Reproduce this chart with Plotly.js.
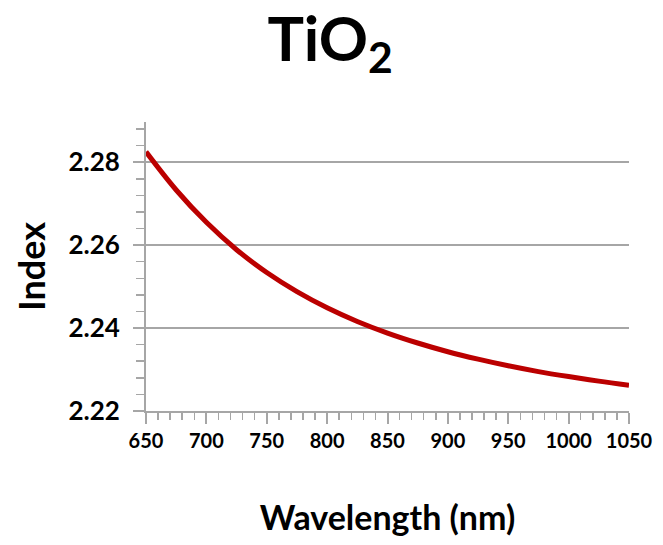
<!DOCTYPE html>
<html>
<head>
<meta charset="utf-8">
<script src="https://cdn.plot.ly/plotly-3.0.1.min.js"></script>
<style>html,body{margin:0;padding:0;background:#fff;}#chart{width:663px;height:545px;}</style>
</head>
<body>
<div id="chart"></div>
<script>
const wavelength = [650,675,700,725,750,775,800,825,850,875,900,925,950,975,1000,1025,1050];
const indexTiO2 = [2.2825,2.2733,2.2655,2.2589,2.2534,2.2488,2.2449,2.2416,2.2388,2.2364,2.2343,2.2325,2.2309,2.2295,2.2283,2.2272,2.2262];
const xTicks = [650,700,750,800,850,900,950,1000,1050];
const yTicks = [2.22,2.24,2.26,2.28];
const yTickText = ['2.22','2.24','2.26','2.28'];

const FONT = 'Lato, "Open Sans", sans-serif';

const trace = {
  x: wavelength, y: indexTiO2, type: 'scatter', mode: 'lines',
  line: {color: '#bb0000', width: 5, shape: 'spline'},
  hoverinfo: 'skip'
};

const layout = {
  width: 663, height: 545,
  margin: {l: 146, r: 34, t: 122, b: 134},
  paper_bgcolor: '#fff', plot_bgcolor: '#fff',
  showlegend: false,
  title: {
    text: '<b>TiO<sub>2</sub></b>',
    font: {family: FONT, size: 61, color: '#000'},
    x: 0.498, xanchor: 'center', xref: 'container',
    y: 0.928, yanchor: 'middle', yref: 'container'
  },
  xaxis: {
    range: [650, 1050], tickvals: xTicks, ticktext: xTicks.map(String),
    showgrid: false, zeroline: false,
    showline: true, linecolor: '#a6a6a6', linewidth: 2,
    ticks: 'outside', ticklen: 11, tickwidth: 2, tickcolor: '#a6a6a6',
    tickfont: {family: FONT, size: 20, color: '#000', weight: 'bold'},
    minor: {dtick: 10, tick0: 650, ticks: 'outside', ticklen: 7, tickwidth: 1.5, tickcolor: '#a6a6a6', showgrid: false},
    title: {text: '<b>Wavelength (nm)</b>', font: {family: FONT, size: 34, color: '#000'}, standoff: 55},
    fixedrange: true
  },
  yaxis: {
    range: [2.22, 2.2897], tickvals: yTicks, ticktext: yTickText,
    showgrid: true, gridcolor: '#a6a6a6', gridwidth: 2,
    zeroline: false,
    showline: true, linecolor: '#a6a6a6', linewidth: 2,
    ticks: 'outside', ticklen: 11, tickwidth: 2, tickcolor: '#a6a6a6',
    ticklabelstandoff: 8,
    tickfont: {family: FONT, size: 26, color: '#000', weight: 'bold'},
    minor: {dtick: 0.004, tick0: 2.22, ticks: 'outside', ticklen: 8, tickwidth: 1.5, tickcolor: '#a6a6a6', showgrid: false},
    title: {text: '<b>Index</b>', font: {family: FONT, size: 36, color: '#000'}, standoff: 12},
    fixedrange: true
  }
};

Plotly.newPlot('chart', [trace], layout, {displayModeBar: false, staticPlot: true});
</script>
</body>
</html>
